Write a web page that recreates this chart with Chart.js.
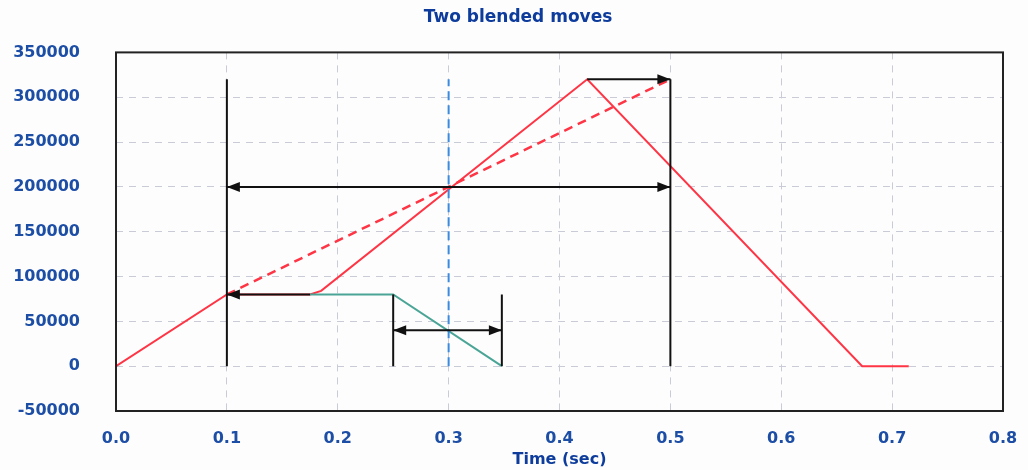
<!DOCTYPE html>
<html>
<head>
<meta charset="utf-8">
<script src="https://cdn.jsdelivr.net/npm/chart.js@4/dist/chart.umd.min.js"></script>
<style>
  html, body { margin: 0; padding: 0; background: #fdfdfd; }
  #wrap { width: 1028px; height: 470px; }
</style>
</head>
<body>
<div id="wrap"><canvas id="chart"></canvas></div>
<script>
// axis ticks
const xTicks = [0, 0.1, 0.2, 0.3, 0.4, 0.5, 0.6, 0.7, 0.8];
const yTicks = [-50000, 0, 50000, 100000, 150000, 200000, 250000, 300000, 350000];

// position profile of the blended moves
const redSolidX = [0, 0.1, 0.175, 0.185, 0.425, 0.673, 0.715];
const redSolidY = [0, 80000, 80000, 84000, 320000, 0, 0];

// unblended reference path
const redDashX = [0.1, 0.5];
const redDashY = [80000, 320000];

// second move decel segment
const tealX = [0.175, 0.25, 0.348];
const tealY = [80000, 80000, 0];

// midpoint marker
const blueX = [0.3, 0.3];
const blueY = [0, 320000];

// black marker verticals
const markX = [0.1, 0.5, 0.25, 0.348];
const markTop = [320000, 320000, 80000, 80000];

// black arrows
const arrowFromX = [0.1, 0.425, 0.175, 0.25];
const arrowToX = [0.5, 0.5, 0.1, 0.348];
const arrowY = [200000, 320000, 80000, 40000];
const arrowBoth = [true, false, false, true];

const pts = (xs, ys) => xs.map((x, i) => ({ x, y: ys[i] }));

const FONT = "'DejaVu Sans', Verdana, sans-serif";
const BLUE_TEXT = '#1d4ea6';

// lower order is drawn on top
const datasets = [
  { data: pts(redSolidX, redSolidY), borderColor: '#ff3444', borderWidth: 2, order: 5 },
  { data: pts(redDashX, redDashY), borderColor: '#ff3444', borderWidth: 2.5, borderDash: [9, 6], order: 4 },
  { data: pts(tealX, tealY), borderColor: '#4aa596', borderWidth: 2, order: 3 },
  { data: pts(blueX, blueY), borderColor: '#3a8be0', borderWidth: 2, borderDash: [9, 5], order: 2 },
];

markX.forEach((x, i) => {
  datasets.push({ data: pts([x, x], [0, markTop[i]]), borderColor: '#111', borderWidth: 2, order: 1 });
});

arrowFromX.forEach((x, i) => {
  datasets.push({
    data: pts([x, arrowToX[i]], [arrowY[i], arrowY[i]]),
    borderColor: '#111', borderWidth: 2, order: 0,
    arrow: { both: arrowBoth[i] }
  });
});

datasets.forEach(d => {
  d.showLine = true;
  d.pointRadius = 0;
  d.pointHoverRadius = 0;
  d.fill = false;
});

// draw arrow heads with the tip on the segment end
const arrowHeads = {
  id: 'arrowHeads',
  afterDatasetsDraw(chart) {
    const ctx = chart.ctx;
    chart.data.datasets.forEach((ds, i) => {
      if (!ds.arrow) return;
      const els = chart.getDatasetMeta(i).data;
      const head = (tip, tail) => {
        const ang = Math.atan2(tip.y - tail.y, tip.x - tail.x);
        const len = 13, half = 5;
        ctx.save();
        ctx.translate(tip.x, tip.y);
        ctx.rotate(ang);
        ctx.beginPath();
        ctx.moveTo(0, 0);
        ctx.lineTo(-len, -half);
        ctx.lineTo(-len, half);
        ctx.closePath();
        ctx.fillStyle = '#111';
        ctx.fill();
        ctx.restore();
      };
      head(els[1], els[0]);
      if (ds.arrow.both) head(els[0], els[1]);
    });
  }
};

// black frame round the plot area
const frame = {
  id: 'frame',
  afterDraw(chart) {
    const a = chart.chartArea;
    const ctx = chart.ctx;
    ctx.save();
    ctx.strokeStyle = '#222';
    ctx.lineWidth = 2;
    ctx.strokeRect(a.left, a.top, a.right - a.left, a.bottom - a.top);
    ctx.restore();
  }
};

new Chart(document.getElementById('chart'), {
  type: 'scatter',
  data: { datasets },
  plugins: [arrowHeads, frame],
  options: {
    responsive: true,
    maintainAspectRatio: false,
    animation: false,
    layout: { padding: { left: 8, right: 0, top: 0, bottom: 0 } },
    plugins: {
      legend: { display: false },
      tooltip: { enabled: false },
      title: {
        display: true,
        text: 'Two blended moves',
        color: '#0d3c9c',
        font: { family: FONT, size: 17, weight: 'bold' },
        padding: { top: 7, bottom: 25 }
      }
    },
    scales: {
      x: {
        type: 'linear',
        min: 0, max: 0.8,
        afterBuildTicks: s => { s.ticks = xTicks.map(v => ({ value: v })); },
        afterFit: s => { s.height = 59; s.paddingLeft = 0; s.paddingRight = 25; },
        grid: { color: '#c9ccd6', drawTicks: false },
        border: { display: false, dash: [7, 6] },
        ticks: {
          color: BLUE_TEXT,
          padding: 18,
          font: { family: FONT, size: 16, weight: 'bold' },
          callback: v => Number(v).toFixed(1)
        },
        title: {
          display: true,
          text: 'Time (sec)',
          color: '#0d3c9c',
          font: { family: FONT, size: 16, weight: 'bold' },
          padding: { top: 0, bottom: 1 }
        }
      },
      y: {
        type: 'linear',
        min: -50000, max: 350000,
        afterBuildTicks: s => { s.ticks = yTicks.map(v => ({ value: v })); },
        afterFit: s => { s.width = 108; },
        grid: { color: '#c9ccd6', drawTicks: false },
        border: { display: false, dash: [7, 6] },
        ticks: {
          color: BLUE_TEXT,
          padding: 36,
          font: { family: FONT, size: 16, weight: 'bold' },
          callback: v => String(v)
        }
      }
    }
  }
});
</script>
</body>
</html>
